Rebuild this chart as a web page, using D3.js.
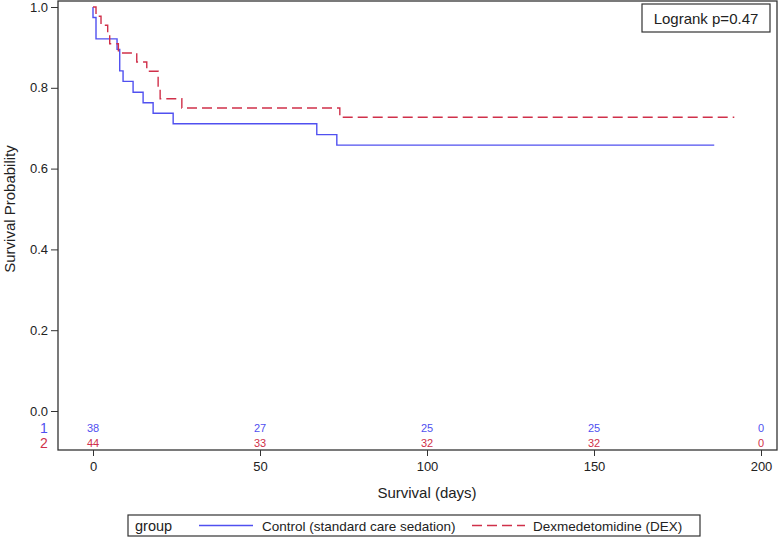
<!DOCTYPE html>
<html><head><meta charset="utf-8">
<script src="https://cdn.jsdelivr.net/npm/d3@7"></script>
<style>body{margin:0;background:#fff}svg{display:block;font-family:"Liberation Sans",Arial,sans-serif}</style>
</head><body><svg id="c" width="778" height="537"></svg>
<script>
const controlTimes = [0, 0, 0.9, 7.2, 8, 9, 12, 15, 18, 24, 67, 73, 186];
const controlSurv  = [1, 0.974, 0.921, 0.895, 0.842, 0.816, 0.789, 0.763, 0.737, 0.711, 0.684, 0.658, 0.658];
const dexTimes = [0, 0.9, 2.4, 4.4, 5.0, 7.6, 13.1, 16.1, 19.5, 20.1, 26.6, 73.9, 192];
const dexSurv  = [1, 0.977, 0.955, 0.932, 0.909, 0.886, 0.864, 0.841, 0.795, 0.773, 0.75, 0.727, 0.727];
const riskTimes = [0, 50, 100, 150, 200];
const controlRisk = [38, 27, 25, 25, 0];
const dexRisk = [44, 33, 32, 32, 0];
const xTicks = [0, 50, 100, 150, 200];
const yTicks = [0, 0.2, 0.4, 0.6, 0.8, 1.0];
const groupNames = ["Control (standard care sedation)", "Dexmedetomidine (DEX)"];
const pText = "Logrank p=0.47";

const BLUE = "#5050f0", RED = "#d0304a";
const svg = d3.select("#c");
const x = d3.scaleLinear().domain([0, 200]).range([93, 761]);
const y = d3.scaleLinear().domain([0, 1]).range([411, 7]);
const L = 58, T = 1, R = 777, B = 450;

// frame
svg.append("rect").attr("x", L).attr("y", T).attr("width", R - L).attr("height", B - T)
  .attr("fill", "none").attr("stroke", "#333").attr("stroke-width", 1.3);

// y axis
const ya = svg.append("g").attr("transform", `translate(${L},0)`)
  .call(d3.axisLeft(y).tickValues(yTicks).tickFormat(d3.format(".1f")).tickSize(7).tickPadding(3));
ya.select(".domain").remove();
ya.selectAll("line").attr("stroke", "#333");
ya.selectAll("text").attr("font-size", 13).attr("fill", "#222").attr("font-family", "Liberation Sans, Arial, sans-serif");

// x axis
const xa = svg.append("g").attr("transform", `translate(0,${B})`)
  .call(d3.axisBottom(x).tickValues(xTicks).tickSize(6).tickPadding(6));
xa.select(".domain").remove();
xa.selectAll("line").attr("stroke", "#333");
xa.selectAll("text").attr("font-size", 13).attr("fill", "#222").attr("font-family", "Liberation Sans, Arial, sans-serif");

// axis labels
svg.append("text").attr("x", x(100)).attr("y", 498).attr("text-anchor", "middle")
  .attr("font-size", 15).attr("fill", "#222").text("Survival (days)");
svg.append("text").attr("transform", `translate(15,${y(0.5)}) rotate(-90)`).attr("text-anchor", "middle")
  .attr("font-size", 15).attr("fill", "#222").text("Survival Probability");

// curves
const line = d3.line().x(d => x(d[0])).y(d => y(d[1])).curve(d3.curveStepAfter);
svg.append("path").datum(controlTimes.map((t, i) => [t, controlSurv[i]]))
  .attr("d", line).attr("fill", "none").attr("stroke", BLUE).attr("stroke-width", 1.4);
svg.append("path").datum(dexTimes.map((t, i) => [t, dexSurv[i]]))
  .attr("d", line).attr("fill", "none").attr("stroke", RED).attr("stroke-width", 1.4)
  .attr("stroke-dasharray", "10,5");

// at-risk
const rows = [[controlRisk, BLUE, 432, "1"], [dexRisk, RED, 447, "2"]];
rows.forEach(([vals, col, yy, lab]) => {
  svg.append("g").selectAll("text").data(vals).join("text")
    .attr("x", (d, i) => x(riskTimes[i])).attr("y", yy).attr("text-anchor", "middle")
    .attr("font-size", 11).attr("fill", col).text(d => d);
  svg.append("text").attr("x", 44).attr("y", yy + 1).attr("text-anchor", "middle")
    .attr("font-size", 14).attr("fill", col).text(lab);
});

// logrank box
svg.append("rect").attr("x", 642).attr("y", 4).attr("width", 128).attr("height", 28)
  .attr("fill", "#fff").attr("stroke", "#333").attr("stroke-width", 1.2);
svg.append("text").attr("x", 706).attr("y", 23.5).attr("text-anchor", "middle")
  .attr("font-size", 15).attr("fill", "#222").text(pText);

// legend
svg.append("rect").attr("x", 128).attr("y", 515).attr("width", 572).attr("height", 21)
  .attr("fill", "#fff").attr("stroke", "#333").attr("stroke-width", 1.2);
svg.append("text").attr("x", 135).attr("y", 531).attr("font-size", 14.5).attr("fill", "#222").text("group");
svg.append("line").attr("x1", 199).attr("x2", 253).attr("y1", 525.5).attr("y2", 525.5)
  .attr("stroke", BLUE).attr("stroke-width", 1.4);
svg.append("text").attr("x", 262).attr("y", 531).attr("font-size", 13.5).attr("fill", "#222").text(groupNames[0]);
svg.append("line").attr("x1", 472).attr("x2", 525).attr("y1", 525.5).attr("y2", 525.5)
  .attr("stroke", RED).attr("stroke-width", 1.4).attr("stroke-dasharray", "10,5");
svg.append("text").attr("x", 533).attr("y", 531).attr("font-size", 13.5).attr("fill", "#222").text(groupNames[1]);
</script></body></html>
